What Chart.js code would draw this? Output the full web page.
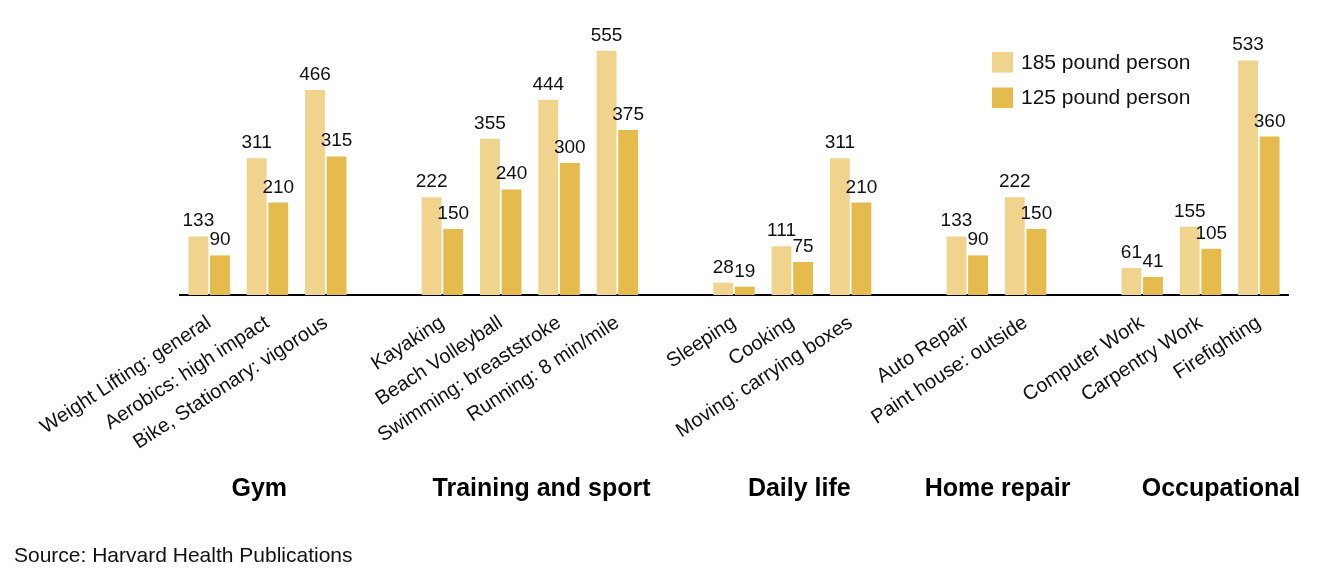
<!DOCTYPE html>
<html>
<head>
<meta charset="utf-8">
<script src="https://cdn.jsdelivr.net/npm/chart.js@4/dist/chart.umd.min.js"></script>
<style>
  html, body { margin: 0; padding: 0; background: #fff; }
  #wrap { width: 1335px; height: 579px; }
</style>
</head>
<body>
<div id="wrap"><canvas id="grafik" width="1335" height="579"></canvas></div>
<script>
// aktivitas per kategori, '' = slot kosong antar grup
const activities = [
  'Weight Lifting: general', 'Aerobics: high impact', 'Bike, Stationary: vigorous', '',
  'Kayaking', 'Beach Volleyball', 'Swimming: breaststroke', 'Running: 8 min/mile', '',
  'Sleeping', 'Cooking', 'Moving: carrying boxes', '',
  'Auto Repair', 'Paint house: outside', '',
  'Computer Work', 'Carpentry Work', 'Firefighting'
];
const groupNames = ['Gym', 'Training and sport', 'Daily life', 'Home repair', 'Occupational'];
const seriesNames = ['185 pound person', '125 pound person'];
const calories185 = [133, 311, 466, null, 222, 355, 444, 555, null, 28, 111, 311, null, 133, 222, null, 61, 155, 533];
const calories125 = [90, 210, 315, null, 150, 240, 300, 375, null, 19, 75, 210, null, 90, 150, null, 41, 105, 360];
const sourceText = 'Source: Harvard Health Publications';

const FONT = '"Liberation Sans", Arial, sans-serif';
const warna = ['#F0D38C', '#E5BB4E'];

// label angka di atas batang
const valueLabels = {
  id: 'valueLabels',
  afterDatasetsDraw(chart) {
    const ctx = chart.ctx;
    ctx.save();
    ctx.font = '19px ' + FONT;
    ctx.fillStyle = '#111';
    ctx.textAlign = 'center';
    ctx.textBaseline = 'alphabetic';
    chart.data.datasets.forEach((ds, i) => {
      chart.getDatasetMeta(i).data.forEach((bar, j) => {
        if (ds.data[j] == null) return;
        ctx.fillText(ds.data[j], bar.x, bar.y - 10);
      });
    });
    ctx.restore();
  }
};

// judul grup, legenda dan sumber
const extras = {
  id: 'extras',
  afterDraw(chart) {
    const ctx = chart.ctx;
    const x = chart.scales.x;
    ctx.save();

    // grup dari urutan label yang dipisah ''
    const spans = [];
    let start = 0;
    activities.forEach((a, i) => {
      if (a === '') { spans.push([start, i - 1]); start = i + 1; }
    });
    spans.push([start, activities.length - 1]);
    const geser = [-0.14, 0.2, 0.12, 0.02, 0.35];

    ctx.font = 'bold 25px ' + FONT;
    ctx.fillStyle = '#000';
    ctx.textAlign = 'center';
    ctx.textBaseline = 'alphabetic';
    spans.forEach((s, g) => {
      const mid = (s[0] + s[1]) / 2 + geser[g];
      ctx.fillText(groupNames[g], x.getPixelForValue(mid), 496);
    });

    // legenda
    ctx.font = '21px ' + FONT;
    ctx.textAlign = 'left';
    ctx.textBaseline = 'middle';
    seriesNames.forEach((n, i) => {
      const y = 52 + i * 35.5;
      ctx.fillStyle = warna[i];
      ctx.fillRect(992, y, 21, 20.5);
      ctx.fillStyle = '#111';
      ctx.fillText(n, 1021, y + 11);
    });

    ctx.font = '21px ' + FONT;
    ctx.textBaseline = 'alphabetic';
    ctx.fillStyle = '#111';
    ctx.fillText(sourceText, 14, 562);
    ctx.restore();
  }
};

const ctx = document.getElementById('grafik').getContext('2d');
const myChart = new Chart(ctx, {
  type: 'bar',
  data: {
    labels: activities,
    datasets: [
      { label: seriesNames[0], data: calories185, backgroundColor: warna[0] },
      { label: seriesNames[1], data: calories125, backgroundColor: warna[1] }
    ]
  },
  options: {
    responsive: false,
    animation: false,
    categoryPercentage: 0.74,
    barPercentage: 0.92,
    layout: { padding: { left: 180, right: 47, top: 31, bottom: 0 } },
    plugins: {
      legend: { display: false },
      tooltip: { enabled: false }
    },
    scales: {
      x: {
        grid: { display: false, drawTicks: false },
        border: { display: true, color: '#000', width: 2 },
        ticks: {
          autoSkip: false,
          minRotation: 33,
          maxRotation: 33,
          padding: 16,
          color: '#111',
          font: { family: FONT, size: 20 }
        },
        afterFit(scale) { scale.height = 284; }
      },
      y: {
        display: false,
        min: 0,
        max: 600
      }
    }
  },
  plugins: [valueLabels, extras]
});
</script>
</body>
</html>
